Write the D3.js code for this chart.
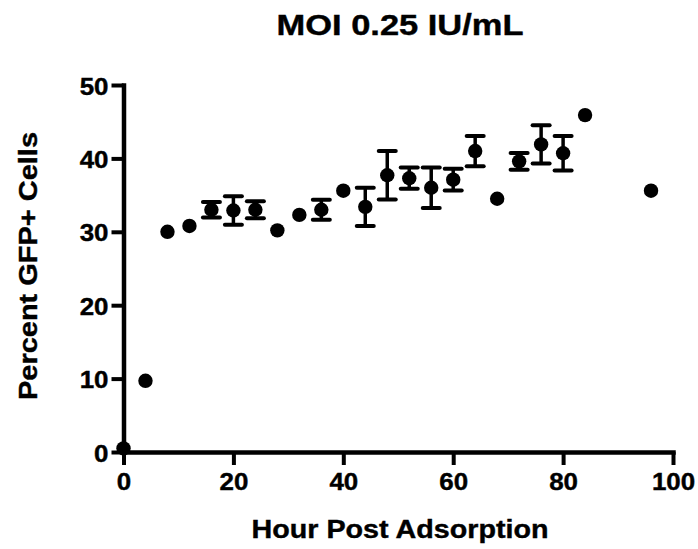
<!DOCTYPE html>
<html><head><meta charset="utf-8">
<script src="https://cdn.jsdelivr.net/npm/d3@7"></script>
<style>
html,body{margin:0;padding:0;background:#fff;}
text{font-family:"Liberation Sans",Arial,sans-serif;font-weight:bold;fill:#000;stroke:#000;stroke-width:0.4px;}
</style></head>
<body><svg id="c" width="698" height="549"></svg>
<script>
const hours = [0,4,8,12,16,20,24,28,32,36,40,44,48,52,56,60,64,68,72,76,80,84,96];
const percent = [0.5,9.7,30.0,30.8,33.0,32.9,33.0,30.2,32.3,33.0,35.6,33.4,37.7,37.3,36.0,37.1,41.0,34.5,39.6,41.9,40.7,45.9,35.6];
const sem = [0,0,0,0,1.05,1.95,1.15,0,0,1.36,0,2.6,3.3,1.45,2.77,1.48,2.06,0,1.14,2.6,2.34,0,0];
const xTicks = [0,20,40,60,80,100];
const yTicks = [0,10,20,30,40,50];
const title = "MOI 0.25 IU/mL";
const xLabel = "Hour Post Adsorption";
const yLabel = "Percent GFP+ Cells";

const svg = d3.select("#c");
const x = d3.scaleLinear().domain([0,100]).range([123.5,673]);
const y = d3.scaleLinear().domain([0,50]).range([452,85]);

function stretch(sel, f){
  sel.each(function(){
    const w = this.getComputedTextLength();
    d3.select(this).attr("textLength", w*f).attr("lengthAdjust","spacingAndGlyphs");
  });
}

// axes
const gx = svg.append("g").attr("transform",`translate(0,${y(0)})`)
  .call(d3.axisBottom(x).tickValues(xTicks).tickSize(13).tickSizeOuter(0).tickPadding(8));
const gy = svg.append("g").attr("transform",`translate(${x(0)},0)`)
  .call(d3.axisLeft(y).tickValues(yTicks).tickSize(12).tickSizeOuter(0).tickPadding(3));
[gx,gy].forEach(g=>{
  g.select(".domain").attr("stroke","#000").attr("stroke-width",4.5).attr("stroke-linecap","square");
  g.selectAll(".tick line").attr("stroke","#000").attr("stroke-width",4);
  g.selectAll(".tick text").style("font-size","24px").attr("fill","#000");
});
gy.selectAll(".tick text").attr("dy","0.38em");
stretch(gx.selectAll(".tick text"),1.08);
stretch(gy.selectAll(".tick text"),1.08);

// error bars
const d = hours.map((h,i)=>({h, v:percent[i], e:sem[i]})).filter(p=>p.e>0);
const eb = svg.append("g").attr("stroke","#000");
eb.selectAll("line.v").data(d).join("line").attr("class","v")
  .attr("x1",p=>x(p.h)).attr("x2",p=>x(p.h))
  .attr("y1",p=>y(p.v-p.e)).attr("y2",p=>y(p.v+p.e)).attr("stroke-width",3.5);
eb.selectAll("line.t").data(d).join("line").attr("class","t")
  .attr("x1",p=>x(p.h)-8.5).attr("x2",p=>x(p.h)+8.5)
  .attr("y1",p=>y(p.v+p.e)).attr("y2",p=>y(p.v+p.e)).attr("stroke-width",4).attr("stroke-linecap","round");
eb.selectAll("line.b").data(d).join("line").attr("class","b")
  .attr("x1",p=>x(p.h)-8.5).attr("x2",p=>x(p.h)+8.5)
  .attr("y1",p=>y(p.v-p.e)).attr("y2",p=>y(p.v-p.e)).attr("stroke-width",4).attr("stroke-linecap","round");

// points
svg.append("g").selectAll("circle").data(hours).join("circle")
  .attr("cx",h=>x(h)).attr("cy",(h,i)=>y(percent[i])).attr("r",7.2).attr("fill","#000");

// labels
const t = svg.append("text").attr("x",400).attr("y",35).attr("text-anchor","middle").style("font-size","29px").text(title);
t.attr("textLength",247).attr("lengthAdjust","spacingAndGlyphs");
const xl = svg.append("text").attr("x",400).attr("y",538).attr("text-anchor","middle").style("font-size","26px").text(xLabel);
xl.attr("textLength",297).attr("lengthAdjust","spacingAndGlyphs");
const yl = svg.append("text").attr("transform","translate(37,266) rotate(-90)").attr("text-anchor","middle").style("font-size","26px").text(yLabel);
yl.attr("textLength",268).attr("lengthAdjust","spacingAndGlyphs");
</script></body></html>
